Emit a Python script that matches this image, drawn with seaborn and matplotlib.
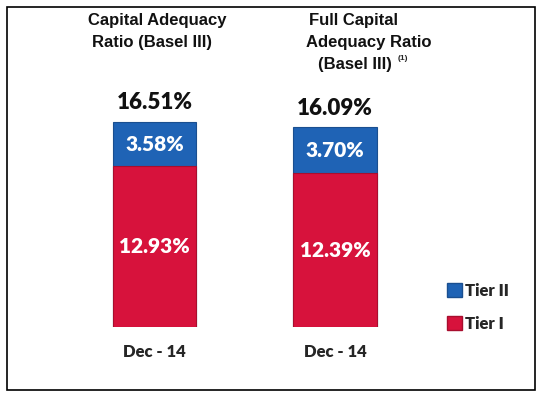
import seaborn as sns
import matplotlib.pyplot as plt
from matplotlib.patches import Patch, Rectangle

# data
scenarios = ["Capital Adequacy Ratio (Basel III)", "Full Capital Adequacy Ratio (Basel III)"]
periods = ["Dec - 14", "Dec - 14"]
tier1 = [12.93, 12.39]
tier2 = [3.58, 3.70]
totals = [16.51, 16.09]

blue = "#1F63B5"
red = "#D7123C"
num_font = "Lato"
title_font = "Liberation Sans"

sns.set_theme(style="white")
plt.rcParams['font.family'] = ['Liberation Sans', 'DejaVu Sans']

fig = plt.figure(figsize=(5.43, 3.97), dpi=100)
W, H = 543, 397
# axes: bottom at bar baseline
base_px = 327
ax = fig.add_axes([0, (H - base_px) / H, 1, base_px / H])

# stacked bars: total (blue) behind, tier I (red) in front
sns.barplot(x=scenarios, y=totals, color=blue, width=0.46, saturation=1,
            edgecolor="#1A4F90", linewidth=0.8, ax=ax)
sns.barplot(x=scenarios, y=tier1, color=red, width=0.46, saturation=1,
            edgecolor="#A80E2E", linewidth=0.8, ax=ax)

px_per_unit = 12.42
ax.set_ylim(0, base_px / px_per_unit)
ax.set_xlim(-154.5 / 180.5, (W - 154.5) / 180.5)
for s in ax.spines.values():
    s.set_visible(False)
ax.set_yticks([])
ax.set_xticks([0, 1])
ax.set_xticklabels(periods, fontsize=12, fontweight="heavy", family=num_font)
ax.tick_params(axis="x", length=0, pad=12)
ax.set_xlabel("")
ax.set_ylabel("")

for i in range(len(scenarios)):
    ax.text(i, totals[i] + 1.53, f"{totals[i]:.2f}%", ha="center", va="center",
            fontsize=16, fontweight="heavy", family=num_font, color="#111111")
    ax.text(i, tier1[i] + tier2[i] / 2, f"{tier2[i]:.2f}%", ha="center", va="center",
            fontsize=15, fontweight="heavy", family=num_font, color="white")
    ax.text(i, tier1[i] / 2, f"{tier1[i]:.2f}%", ha="center", va="center",
            fontsize=15, fontweight="heavy", family=num_font, color="white")

# titles
tkw = dict(fontsize=12, fontweight="bold", family=title_font, color="#111111",
           ha="left", va="center")
fig.text(88 / W, 1 - 20 / H, "Capital Adequacy", **tkw)
fig.text(92 / W, 1 - 42 / H, "Ratio (Basel III)", **tkw)
fig.text(309 / W, 1 - 20 / H, "Full Capital", **tkw)
fig.text(306 / W, 1 - 42 / H, "Adequacy Ratio", **tkw)
fig.text(318 / W, 1 - 64 / H, "(Basel III)", **tkw)
fig.text(398 / W, 1 - 58 / H, "(1)", fontsize=6, fontweight="bold",
         family=title_font, ha="left", va="center")

# legend
handles = [Patch(facecolor=blue, edgecolor="#1A4F90", label="Tier II"),
           Patch(facecolor=red, edgecolor="#A80E2E", label="Tier I")]
fig.legend(handles=handles, loc="upper left", bbox_to_anchor=(432 / W, 1 - 268 / H),
           frameon=False, prop={"family": num_font, "weight": "heavy", "size": 12},
           handlelength=0.9, handleheight=0.9, handletextpad=0.2, labelspacing=1.0)

# outer frame
fig.patches.append(Rectangle((7 / W, 1 - 390 / H), 528 / W, 383 / H, transform=fig.transFigure,
                             fill=False, edgecolor="black", linewidth=1.2))

fig.savefig("out.png", dpi=100)
